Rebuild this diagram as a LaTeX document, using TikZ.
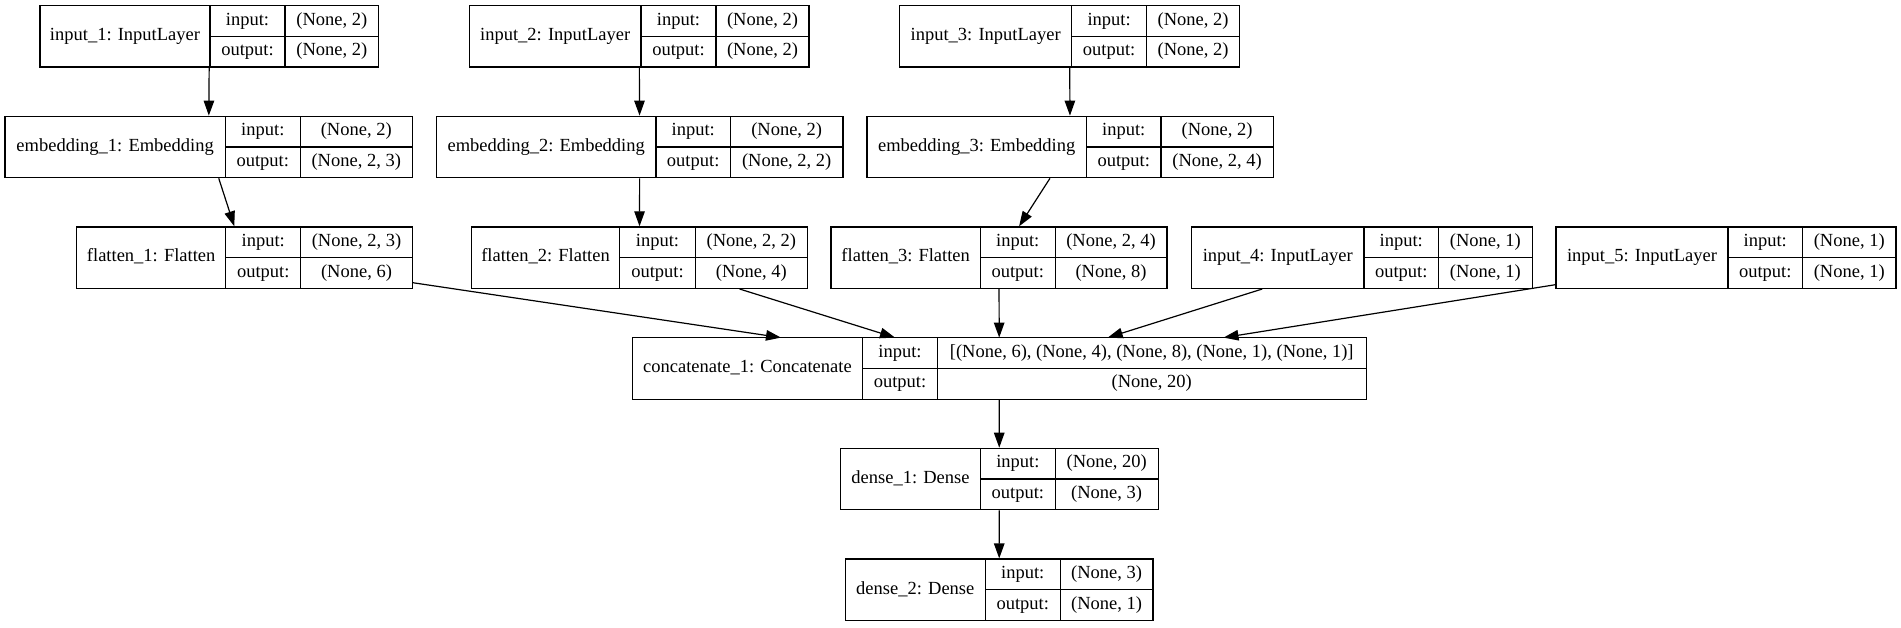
\documentclass[tikz,border=0pt]{standalone}
\usepackage{fontspec}
\setmainfont{Liberation Serif}
\usetikzlibrary{arrows.meta}
\tikzset{
  layerbox/.style={draw=black, line width=1.2pt, minimum height=61.5pt, inner sep=0pt, fill=none},
  rule/.style={draw=black, line width=1.2pt},
  txt/.style={inner sep=0pt, text height=12.5pt, text depth=4pt, font=\fontsize{18.5}{22}\selectfont},
  arr/.style={draw=black, line width=1.2pt, -{Triangle[length=15pt,width=10.5pt]}}
}
\newcommand\kbox[9]{%
  \pgfmathsetmacro\kw{#5-#2}%
  \pgfmathsetmacro\kcx{(#2+#5)/2}%
  \pgfmathsetmacro\kcy{#6+30.75}%
  \pgfmathsetmacro\kyb{#6+61.5}%
  \pgfmathsetmacro\kyi{#6+15.375}%
  \pgfmathsetmacro\kyo{#6+46.125}%
  \pgfmathsetmacro\kla{(#2+#3)/2}%
  \pgfmathsetmacro\klb{(#3+#4)/2}%
  \pgfmathsetmacro\klc{(#4+#5)/2}%
  \node[layerbox, minimum width=\kw pt] (#1) at (\kcx,\kcy) {};
  \draw[rule] (#3,#6) -- (#3,\kyb);
  \draw[rule] (#4,#6) -- (#4,\kyb);
  \draw[rule] (#3,\kcy) -- (#5,\kcy);
  \node[txt] (#1-lab) at (\kla,\kcy) {#7};
  \node[txt] (#1-ik) at (\klb,\kyi) {input:};
  \node[txt] (#1-ok) at (\klb,\kyo) {output:};
  \node[txt] (#1-iv) at (\klc,\kyi) {#8};
  \node[txt] (#1-ov) at (\klc,\kyo) {#9};
}
\begin{document}
\begin{tikzpicture}[x=1pt,y=-1pt]
\useasboundingbox[fill=white] (0,0) rectangle (1901,627);
\kbox{in1}{40}{210}{285}{378.8}{5.5}{input\_1: InputLayer}{(None, 2)}{(None, 2)}
\kbox{in2}{469.4}{641}{716}{809}{5.5}{input\_2: InputLayer}{(None, 2)}{(None, 2)}
\kbox{in3}{899.6}{1071.8}{1146.5}{1239.6}{5.5}{input\_3: InputLayer}{(None, 2)}{(None, 2)}
\kbox{emb1}{5}{225.3}{300.3}{412.2}{116.2}{embedding\_1: Embedding}{(None, 2)}{(None, 2, 3)}
\kbox{emb2}{436.5}{655.9}{730.5}{842.9}{116.2}{embedding\_2: Embedding}{(None, 2)}{(None, 2, 2)}
\kbox{emb3}{866.9}{1086.5}{1161}{1273.3}{116.2}{embedding\_3: Embedding}{(None, 2)}{(None, 2, 4)}
\kbox{flat1}{76.7}{225.7}{300.8}{412.2}{226.9}{flatten\_1: Flatten}{(None, 2, 3)}{(None, 6)}
\kbox{flat2}{471.6}{619.5}{695.5}{807.3}{226.9}{flatten\_2: Flatten}{(None, 2, 2)}{(None, 4)}
\kbox{flat3}{831}{980.4}{1055.1}{1166.9}{226.9}{flatten\_3: Flatten}{(None, 2, 4)}{(None, 8)}
\kbox{in4}{1191.5}{1364}{1438.4}{1532.2}{226.9}{input\_4: InputLayer}{(None, 1)}{(None, 1)}
\kbox{in5}{1556}{1728}{1802.5}{1895.9}{226.9}{input\_5: InputLayer}{(None, 1)}{(None, 1)}
\kbox{cat}{632.1}{862.8}{937.2}{1366.3}{337.6}{concatenate\_1: Concatenate}{[(None, 6), (None, 4), (None, 8), (None, 1), (None, 1)]}{(None, 20)}
\kbox{d1}{840.3}{980.6}{1055.1}{1158.2}{448.3}{dense\_1: Dense}{(None, 20)}{(None, 3)}
\kbox{d2}{845.4}{985.2}{1060.2}{1153}{559}{dense\_2: Dense}{(None, 3)}{(None, 1)}
\coordinate (c1) at (781,337.6);
\coordinate (c2) at (895,337.6);
\coordinate (c3) at (999.2,337.6);
\coordinate (c4) at (1107.7,337.6);
\coordinate (c5) at (1223.5,337.6);
\draw[arr] (in1) -- (emb1);
\draw[arr] (emb1) -- (flat1);
\draw[arr] (in2) -- (emb2);
\draw[arr] (emb2) -- (flat2);
\draw[arr] (in3) -- (emb3);
\draw[arr] (emb3) -- (flat3);
\draw[arr] (flat1) -- (c1);
\draw[arr] (flat2) -- (c2);
\draw[arr] (flat3) -- (c3);
\draw[arr] (in4) -- (c4);
\draw[arr] (in5) -- (c5);
\draw[arr] (cat) -- (d1);
\draw[arr] (d1) -- (d2);
\end{tikzpicture}
\end{document}
